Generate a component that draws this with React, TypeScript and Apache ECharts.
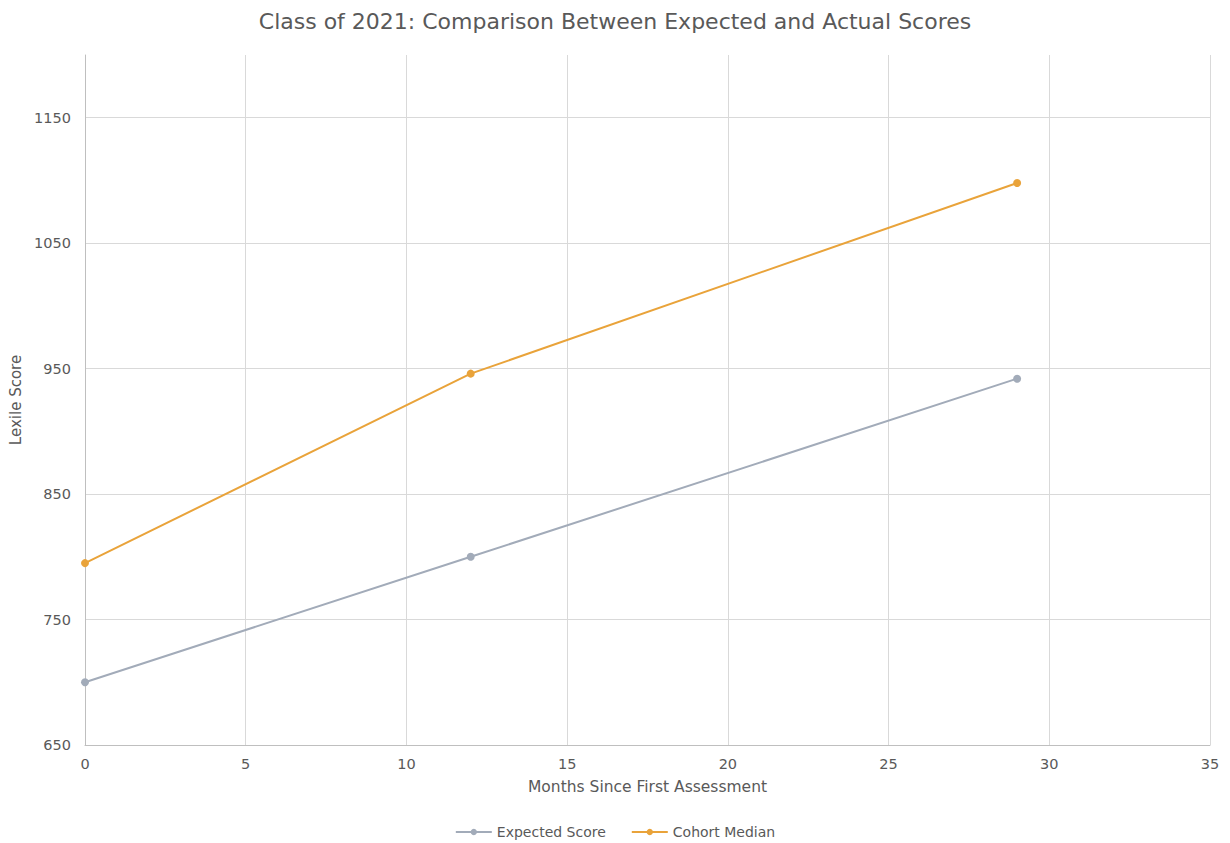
import React, { useEffect, useRef } from "react";
import * as echarts from "echarts";

const months: number[] = [0, 12, 29];
const expectedScore: number[] = [700, 800, 942];
const cohortMedian: number[] = [795, 946, 1098];
const seriesNames: string[] = ["Expected Score", "Cohort Median"];

const FONT = "'DejaVu Sans', Verdana, sans-serif";
const TXT = "#595959";

export default function App() {
  const ref = useRef<HTMLDivElement>(null);
  useEffect(() => {
    document.body.style.margin = "0";
    if (!ref.current) return;
    const chart = echarts.init(ref.current, undefined, { renderer: "svg" });
    chart.setOption({
      animation: false,
      backgroundColor: "#fff",
      textStyle: { fontFamily: FONT },
      title: {
        text: "Class of 2021: Comparison Between Expected and Actual Scores",
        left: "center",
        top: 5,
        textStyle: { fontFamily: FONT, fontSize: 22, fontWeight: "normal", color: TXT },
      },
      legend: {
        bottom: -1,
        left: "center",
        itemWidth: 36,
        itemHeight: 8,
        itemGap: 25,
        textStyle: { fontFamily: FONT, fontSize: 14, color: TXT },
        data: seriesNames,
      },
      grid: { left: 85, right: 20, top: 55, bottom: 98, containLabel: false },
      xAxis: {
        type: "value",
        min: 0,
        max: 35,
        interval: 5,
        name: "Months Since First Assessment",
        nameLocation: "middle",
        nameGap: 34,
        nameTextStyle: { fontFamily: FONT, fontSize: 15.5, color: TXT },
        axisLine: { show: true, lineStyle: { color: "#bfbfbf", width: 1 } },
        axisTick: { show: false },
        axisLabel: { fontFamily: FONT, fontSize: 14.5, color: TXT, margin: 11 },
        splitLine: { show: true, lineStyle: { color: "#d9d9d9", width: 1 } },
      },
      yAxis: {
        type: "value",
        min: 650,
        max: 1200,
        interval: 50,
        name: "Lexile Score",
        nameLocation: "middle",
        nameGap: 61,
        nameTextStyle: { fontFamily: FONT, fontSize: 15, color: TXT },
        axisLine: { show: true, lineStyle: { color: "#bfbfbf", width: 1 } },
        axisTick: { show: false },
        axisLabel: {
          fontFamily: FONT,
          fontSize: 14.5,
          color: TXT,
          margin: 14,
          formatter: (v: number) => ((v - 650) % 100 === 0 ? String(v) : ""),
        },
        splitLine: {
          show: true,
          showMaxLine: false,
          lineStyle: { color: ["#d9d9d9", "rgba(0,0,0,0)"], width: 1 },
        },
      },
      series: [
        {
          name: seriesNames[0],
          type: "line",
          data: months.map((m, i) => [m, expectedScore[i]]),
          symbol: "circle",
          symbolSize: 8,
          lineStyle: { color: "#a2abb9", width: 2 },
          itemStyle: { color: "#a2abb9" },
        },
        {
          name: seriesNames[1],
          type: "line",
          data: months.map((m, i) => [m, cohortMedian[i]]),
          symbol: "circle",
          symbolSize: 8,
          lineStyle: { color: "#e9a33a", width: 2 },
          itemStyle: { color: "#e9a33a" },
        },
      ],
    });
    return () => chart.dispose();
  }, []);
  return <div ref={ref} style={{ width: 1230, height: 843 }} />;
}
